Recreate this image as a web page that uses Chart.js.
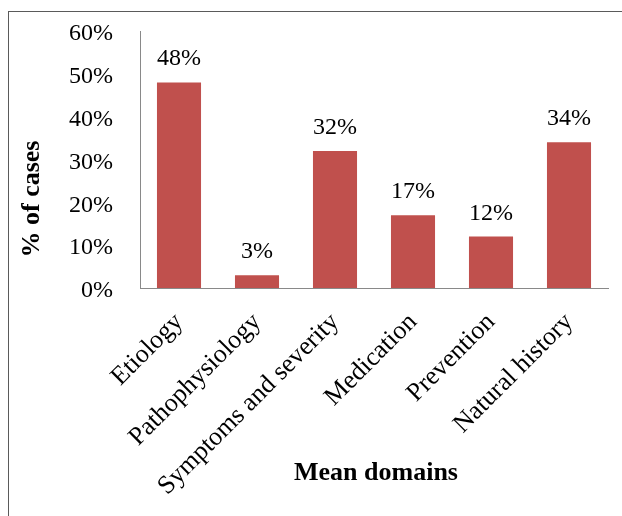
<!DOCTYPE html>
<html>
<head>
<meta charset="utf-8">
<script src="https://cdn.jsdelivr.net/npm/chart.js@4/dist/chart.umd.min.js"></script>
<style>
  body { margin: 0; background: #fff; }
  #wrap { position: relative; width: 622px; height: 516px; overflow: hidden; }
  #frame { position: absolute; left: 8px; top: 11px; right: -2px; bottom: -2px;
           border-top: 1px solid #5a5a5a; border-left: 1px solid #5a5a5a; }
  #chart { position: absolute; left: 0; top: 0; }
</style>
</head>
<body>
<div id="wrap">
  <div id="frame"></div>
  <canvas id="chart" width="622" height="516"></canvas>
</div>
<script>
// Data
const domains = ['Etiology', 'Pathophysiology', 'Symptoms and severity', 'Medication', 'Prevention', 'Natural history'];
const casePercent = [48, 3, 32, 17, 12, 34];
const yTicks = [0, 10, 20, 30, 40, 50, 60];

const xTitle = 'Mean domains';
const yTitle = '% of cases';
const serif = '"Liberation Serif", "Times New Roman", serif';

// Value labels above each bar
const valueLabels = {
    id: 'valueLabels',
    afterDatasetsDraw(chart) {
        const ctx = chart.ctx;
        const meta = chart.getDatasetMeta(0);
        ctx.save();
        ctx.font = '24px ' + serif;
        ctx.fillStyle = '#000';
        ctx.textAlign = 'center';
        ctx.textBaseline = 'alphabetic';
        meta.data.forEach((bar, i) => {
            ctx.fillText(casePercent[i] + '%', bar.x, bar.y - 17);
        });
        ctx.restore();
    }
};

// Axis titles (y title sits lower than the plot centre, as in the original)
const axisTitles = {
    id: 'axisTitles',
    afterDraw(chart) {
        const ctx = chart.ctx;
        const area = chart.chartArea;
        ctx.save();
        ctx.font = 'bold 26px ' + serif;
        ctx.fillStyle = '#000';
        ctx.textAlign = 'center';
        ctx.textBaseline = 'middle';
        ctx.fillText(xTitle, (area.left + area.right) / 2 + 2, 473);
        ctx.translate(32, area.bottom - 89);
        ctx.rotate(-Math.PI / 2);
        ctx.fillText(yTitle, 0, 0);
        ctx.restore();
    }
};

const ctx = document.getElementById('chart').getContext('2d');
new Chart(ctx, {
    type: 'bar',
    data: {
        labels: domains,
        datasets: [{
            data: casePercent,
            backgroundColor: '#C0504D',
            borderWidth: 0,
            categoryPercentage: 1,
            barPercentage: 0.565
        }]
    },
    options: {
        responsive: false,
        animation: false,
        devicePixelRatio: 1,
        layout: { padding: { top: 31, right: 14, left: 0, bottom: 0 } },
        plugins: {
            legend: { display: false },
            tooltip: { enabled: false }
        },
        scales: {
            x: {
                grid: { display: false, drawTicks: false },
                border: { display: true, color: '#898989', width: 1 },
                ticks: {
                    color: '#000',
                    font: { family: serif, size: 26 },
                    minRotation: 45,
                    maxRotation: 45,
                    autoSkip: false,
                    padding: 19
                },
                afterFit(scale) {
                    scale.height = 228;
                    scale.paddingLeft = 0;
                    scale.paddingRight = 0;
                }
            },
            y: {
                min: 0,
                max: 60,
                grid: { display: false, drawTicks: false },
                border: { display: true, color: '#898989', width: 1 },
                afterBuildTicks(scale) { scale.ticks = yTicks.map(v => ({ value: v })); },
                ticks: {
                    color: '#000',
                    font: { family: serif, size: 24 },
                    padding: 27,
                    labelOffset: 3,
                    callback: v => v + '%'
                },
                afterFit(scale) {
                    scale.width = 140;
                    scale.paddingTop = 0;
                    scale.paddingBottom = 0;
                }
            }
        }
    },
    plugins: [valueLabels, axisTitles]
});
</script>
</body>
</html>
